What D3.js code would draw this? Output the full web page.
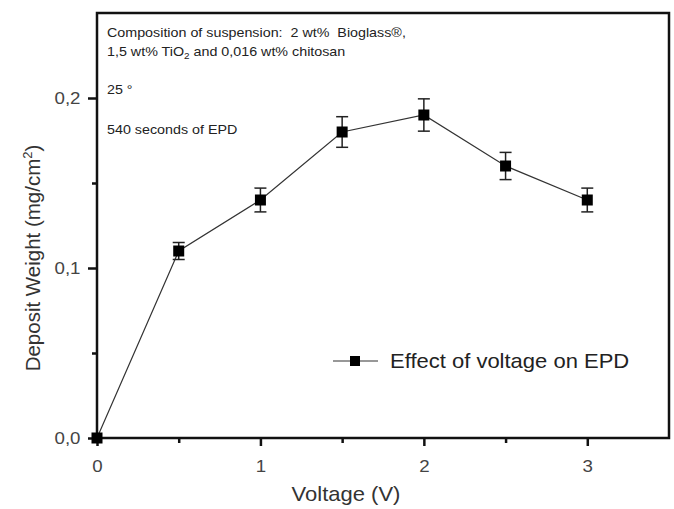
<!DOCTYPE html>
<html>
  <head>
    <meta charset="utf-8">
    <title>Effect of voltage on EPD</title>
    <script src="https://d3js.org/d3.v7.min.js"></script>
    <style>
      body { margin: 0; background: #fff; }
      text { font-family: "Liberation Sans", Arial, sans-serif; white-space: pre; }
    </style>
  </head>
  <body>
    <div id="chart"></div>
    <script>
      // data
      const voltage = [0, 0.5, 1, 1.5, 2, 2.5, 3];
      const weight = [0, 0.11, 0.14, 0.18, 0.19, 0.16, 0.14];
      const errors = [0, 0.005, 0.007, 0.009, 0.0095, 0.008, 0.007];
      const xTicks = [0, 1, 2, 3];
      const xMinor = [0.5, 1.5, 2.5];
      const yTicks = [0, 0.1, 0.2];
      const yMinor = [0.05, 0.15];
      const seriesName = "Effect of voltage on EPD";

      const width = 674, height = 509;
      const margin = { top: 13, right: 5, bottom: 71, left: 97 };
      const sx = 1.1; // the original figure is a bit stretched sideways

      const svg = d3.select("#chart")
        .append("svg")
        .attr("width", width)
        .attr("height", height);

      const x = d3.scaleLinear()
        .domain([0, 3.5])
        .range([margin.left, width - margin.right]);
      const y = d3.scaleLinear()
        .domain([0, 0.25])
        .range([height - margin.bottom, margin.top]);

      const fmt = d3.format(".1f");
      const comma = function(d) { return fmt(d).replace(".", ","); };

      // frame
      svg.append("rect")
        .attr("x", x(0))
        .attr("y", y(0.25))
        .attr("width", x(3.5) - x(0))
        .attr("height", y(0) - y(0.25))
        .attr("fill", "none")
        .attr("stroke", "#111")
        .attr("stroke-width", 2.5);

      // axes
      svg.append("g")
        .attr("transform", "translate(0," + y(0) + ")")
        .call(d3.axisBottom(x).tickValues(xTicks).tickSize(8).tickPadding(14).tickFormat(d3.format("d")));
      svg.append("g")
        .attr("transform", "translate(0," + y(0) + ")")
        .call(d3.axisBottom(x).tickValues(xMinor).tickSize(5).tickFormat(""));
      svg.append("g")
        .attr("transform", "translate(" + x(0) + ",0)")
        .call(d3.axisLeft(y).tickValues(yTicks).tickSize(9).tickPadding(6).tickFormat(comma));
      svg.append("g")
        .attr("transform", "translate(" + x(0) + ",0)")
        .call(d3.axisLeft(y).tickValues(yMinor).tickSize(5).tickFormat(""));

      svg.selectAll(".domain").remove();
      svg.selectAll(".tick line").attr("stroke", "#111").attr("stroke-width", 2.5);
      svg.selectAll(".tick text")
        .attr("fill", "#444")
        .attr("font-size", 17)
        .attr("transform", "scale(" + sx + ",1)")
        .style("font-size", "17px");

      // stretched text helper
      function label(parent, px, py, size, str, anchor) {
        return parent.append("text")
          .attr("transform", "translate(" + px + "," + py + ") scale(" + sx + ",1)")
          .attr("text-anchor", anchor || "start")
          .style("font-size", size + "px")
          .text(str);
      }

      // axis titles
      label(svg, 346, 501, 20, "Voltage (V)", "middle").attr("fill", "#333");
      const yTitle = svg.append("text")
        .attr("transform", "translate(40,258) rotate(-90)")
        .attr("text-anchor", "middle")
        .attr("fill", "#333")
        .style("font-size", "20.5px");
      yTitle.append("tspan").text("Deposit Weight (mg/cm");
      yTitle.append("tspan").attr("dy", -8).style("font-size", "13px").text("2");
      yTitle.append("tspan").attr("dy", 8).text(")");

      // line
      const pts = voltage.map(function(v, i) { return { v: v, w: weight[i], e: errors[i] }; });
      svg.append("path")
        .datum(pts)
        .attr("fill", "none")
        .attr("stroke", "#333")
        .attr("stroke-width", 1.2)
        .attr("d", d3.line().x(function(d) { return x(d.v); }).y(function(d) { return y(d.w); }));

      // error bars
      const eb = svg.selectAll(".err")
        .data(pts.filter(function(d) { return d.e > 0; }))
        .enter().append("g")
        .attr("stroke", "#222")
        .attr("stroke-width", 1.5);
      eb.append("line")
        .attr("x1", function(d) { return x(d.v); })
        .attr("x2", function(d) { return x(d.v); })
        .attr("y1", function(d) { return y(d.w - d.e); })
        .attr("y2", function(d) { return y(d.w + d.e); });
      [-1, 1].forEach(function(s) {
        eb.append("line")
          .attr("x1", function(d) { return x(d.v) - 6; })
          .attr("x2", function(d) { return x(d.v) + 6; })
          .attr("y1", function(d) { return y(d.w + s * d.e); })
          .attr("y2", function(d) { return y(d.w + s * d.e); });
      });

      // markers
      svg.selectAll(".pt")
        .data(pts)
        .enter().append("rect")
        .attr("x", function(d) { return x(d.v) - 5.5; })
        .attr("y", function(d) { return y(d.w) - 5.5; })
        .attr("width", 11)
        .attr("height", 11)
        .attr("fill", "#000");

      // annotations
      const note = svg.append("g").attr("fill", "#222");
      label(note, 107, 37, 13, "Composition of suspension:  2 wt%  Bioglass\u00ae,");
      const l2 = label(note, 107, 56, 13, null);
      l2.append("tspan").text("1,5 wt% TiO");
      l2.append("tspan").attr("dy", 3).style("font-size", "9px").text("2");
      l2.append("tspan").attr("dy", -3).text(" and 0,016 wt% chitosan");
      label(note, 107, 94, 13, "25 \u00b0");
      label(note, 107, 134, 13, "540 seconds of EPD");

      // legend
      const lg = svg.append("g").attr("transform", "translate(333,361)");
      lg.append("line").attr("x1", 0).attr("x2", 45).attr("y1", 0).attr("y2", 0)
        .attr("stroke", "#333").attr("stroke-width", 1.2);
      lg.append("rect").attr("x", 17).attr("y", -5).attr("width", 10).attr("height", 10).attr("fill", "#000");
      label(lg, 57, 7, 20, seriesName).attr("fill", "#222");
    </script>
  </body>
</html>
